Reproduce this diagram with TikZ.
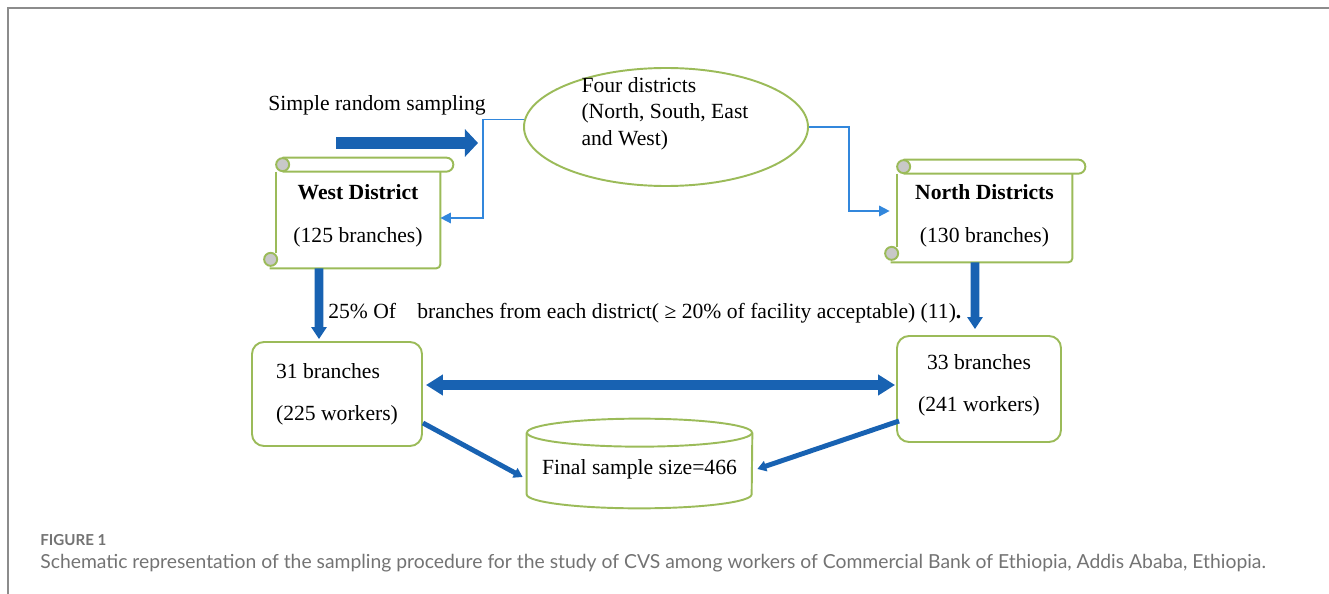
\documentclass[tikz,border=0pt]{standalone}
\usepackage{fontspec}
\setmainfont{Liberation Serif}
\newfontfamily\legende{Lato}
\usetikzlibrary{arrows.meta, shapes.geometric, positioning}
\definecolor{monVert}{RGB}{155,187,89}
\definecolor{monBleu}{RGB}{24,98,178}
\definecolor{bleuClair}{RGB}{50,135,220}
\definecolor{grisTexte}{RGB}{115,115,115}
\definecolor{grisCadre}{RGB}{140,140,140}
\definecolor{grisRouleau}{RGB}{200,200,200}

% Parchemin autour d'un noeud
\newcommand{\parchemin}[1]{%
  \draw[vert] ([yshift=-2.8mm]#1.north west) -- ([yshift=3mm]#1.south west);
  \draw[vert, rounded corners=0.8mm] ([yshift=-2.8mm]#1.north east) -- (#1.south east) -- ([xshift=-1.2mm]#1.south west);
  \draw[vert, fill=white] ([xshift=1.4mm]#1.north west) -- ([xshift=1.2mm]#1.north east)
    arc[start angle=90, end angle=-90, radius=1.4mm] -- ([xshift=1.4mm,yshift=-2.8mm]#1.north west);
  \filldraw[vert, fill=grisRouleau] ([xshift=1.4mm,yshift=-1.4mm]#1.north west) circle[radius=1.3mm];
  \filldraw[vert, fill=grisRouleau] ([xshift=-1mm,yshift=1.8mm]#1.south west) circle[radius=1.3mm];
}

\begin{document}
\begin{tikzpicture}[x=0.2mm, y=-0.2mm,
    vert/.style={draw=monVert, line width=1.1pt},
    texte/.style={font=\fontsize{12.3}{15}\selectfont, inner sep=0pt},
    boite/.style={vert, texte, rounded corners=2.4mm},
    grosseFleche/.style={monBleu, line width=7pt, -{Triangle[length=7.4pt, width=15.3pt]}},
    doubleFleche/.style={monBleu, line width=6pt, {Triangle[length=9.6pt, width=11.3pt]}-{Triangle[length=9.6pt, width=11.3pt]}},
    flecheMoy/.style={monBleu, line width=5pt, -{Triangle[length=6.8pt, width=8.5pt]}},
    flecheFine/.style={monBleu, line width=2.8pt, -{Triangle[length=5pt, width=6pt]}},
    lien/.style={bleuClair, line width=0.9pt, -{Triangle[length=6pt, width=6pt]}}]
  \useasboundingbox (0,0) rectangle (1329,594);

  % Cadre
  \draw[grisCadre, line width=1.1pt] (8,594) -- (8,8) -- (1329,8);

  % Districts
  \node[vert, ellipse, minimum width=56.8mm, minimum height=23.6mm] (districts) at (666,127) {};
  \node[texte, align=left] (districtsTxt) at (665,113.5) {Four districts\\(North, South, East\\and West)};

  % Echantillonnage
  \node[texte, anchor=west] (sampling) at (268,105) {Simple random sampling};
  \coordinate (debutFleche) at (336,143);
  \coordinate (finFleche) at (478,143);
  \draw[grosseFleche] (debutFleche) -- (finFleche);

  % Parchemins
  \node[texte, minimum width=32.8mm, minimum height=22mm, align=center] (west) at (358,213)
    {\rule{0pt}{11.8pt}\textbf{West District}\\[9pt](125 branches)};
  \parchemin{west}
  \node[texte, minimum width=35mm, minimum height=20.4mm, align=center] (north) at (984.5,211)
    {\rule{0pt}{14pt}\textbf{North Districts}\\[9pt](130 branches)};
  \parchemin{north}

  \draw[lien] (districts.177) -- ++(-41,0) |- ([yshift=-1mm]west.east);
  \draw[lien, shorten >=1.4mm] (districts.east) -- ++(40,0) |- (north.west);

  % Branches
  \node[texte, anchor=west] (pourcent) at (328,313)
    {25\% Of\hspace{12pt}branches from each district( ≥ 20\% of facility acceptable) (11)\textbf{.}};
  \node[boite, minimum width=34mm, minimum height=20.8mm, align=left] (box31) at (337,394)
    {31 branches\hspace{12pt}\\[9pt](225 workers)};
  \node[boite, minimum width=32.8mm, minimum height=21.2mm, text depth=7pt, align=center] (box33) at (979,389)
    {33 branches\\[9pt](241 workers)};

  \draw[flecheMoy] ([xshift=-7.8mm]west.south) -- ([xshift=-3.6mm,yshift=0.4mm]box31.north);
  \draw[flecheMoy] ([xshift=-1.9mm]north.south) -- ([xshift=-0.8mm,yshift=1.2mm]box33.north);
  \draw[doubleFleche] ([yshift=1.8mm,xshift=0.6mm]box31.east) -- ([yshift=1.8mm,xshift=-0.2mm]box31.east -| box33.west);

  % Echantillon final
  \node[texte, minimum width=45mm, minimum height=17.8mm] (final) at (639.5,463.5) {\rule{0pt}{15pt}Final sample size=466};
  \draw[vert] ([yshift=-2.8mm]final.north west) -- ([yshift=2.8mm]final.south west)
    arc[start angle=180, end angle=360, x radius=22.5mm, y radius=2.8mm] -- ([yshift=-2.8mm]final.north east);
  \draw[vert] ([yshift=-2.8mm]final.north) ellipse[x radius=22.5mm, y radius=2.8mm];

  \draw[flecheFine] ([yshift=-5.8mm]box31.east) -- ([xshift=-0.8mm,yshift=-2.7mm]final.west);
  \draw[flecheFine] ([xshift=0.6mm,yshift=-6.4mm]box33.west) -- ([xshift=1mm,yshift=-1.1mm]final.east);

  % Legende
  \node[anchor=west, inner sep=0pt, text=grisTexte, font=\legende\bfseries\fontsize{8.6}{10}\selectfont] (figure) at (40,540) {FIGURE 1};
  \node[anchor=west, inner sep=0pt, text=grisTexte, font=\legende\fontsize{11}{13}\selectfont] (legende) at (40,563)
    {Schematic representation of the sampling procedure for the study of CVS among workers of Commercial Bank of Ethiopia, Addis Ababa, Ethiopia.};
\end{tikzpicture}
\end{document}
